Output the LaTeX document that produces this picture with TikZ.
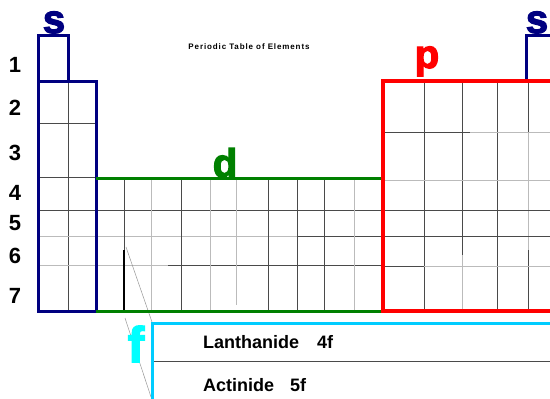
\documentclass[tikz,border=0pt]{standalone}
\usepackage{fontspec}
\setmainfont{Liberation Sans}
\newfontfamily\blockfont{Liberation Sans Bold}[FakeBold=3]
\usepackage{tikz}
\usetikzlibrary{positioning}
\definecolor{sblue}{HTML}{000080}
\definecolor{pred}{HTML}{FF0000}
\definecolor{dgreen}{HTML}{008000}
\definecolor{fcyan}{HTML}{00CCFF}
\definecolor{fletter}{HTML}{00FFFF}
\definecolor{gridgray}{HTML}{4A4A4A}
\definecolor{gridlight}{HTML}{BBBBBB}

\begin{document}
\begin{tikzpicture}[
    x=1pt, y=-1pt,
    grid/.style={gridgray, line width=0.8pt},
    faint/.style={gridlight, line width=0.8pt},
    leader/.style={gridlight!80!black, line width=0.5pt},
    blockletter/.style={font=\blockfont\fontsize{40}{40}\selectfont, anchor=base, inner sep=0pt},
    rowlabel/.style={font=\bfseries\fontsize{22}{22}\selectfont, anchor=base, inner sep=0pt},
    fname/.style={font=\bfseries\fontsize{18}{18}\selectfont, anchor=base west, inner sep=0pt}
  ]
    \useasboundingbox (0,0) rectangle (550,399);
    \clip (0,0) rectangle (550,399);

    % grid of the s and d blocks
    \draw[grid] (68,81) -- (68,311);
    \foreach \y in {123,177} \draw[grid] (38,\y) -- (96,\y);
    \draw[grid] (38,210) -- (382,210);
    \draw[faint] (38,236) -- (297,236);
    \draw[grid] (297,236) -- (382,236);
    \draw[faint] (38,265) -- (168,265);
    \draw[grid] (168,265) -- (382,265);
    \foreach \x in {124,181,268,297,324} \draw[grid] (\x,178) -- (\x,311);
    \foreach \x in {151,210,354} \draw[faint] (\x,178) -- (\x,311);
    \draw[faint] (236,178) -- (236,305);
    \draw[black, line width=1.6pt] (124,250) -- (124,311);

    % grid of the p block
    \foreach \x in {424,497} \draw[grid] (\x,81) -- (\x,311);
    \draw[grid] (462,81) -- (462,255);
    \draw[faint] (462,255) -- (462,311);
    \draw[grid] (528,81) -- (528,132);
    \draw[faint] (528,132) -- (528,250);
    \draw[grid] (528,250) -- (528,311);
    \draw[grid] (382,132) -- (470,132);
    \draw[faint] (470,132) -- (550,132);
    \draw[faint] (382,180) -- (550,180);
    \foreach \y in {210,236} \draw[grid] (382,\y) -- (550,\y);
    \draw[grid] (382,266) -- (424,266);
    \draw[faint] (424,266) -- (550,266);

    % leaders to the f block
    \draw[leader] (126,247) -- (152,322);
    \draw[leader] (125,318) -- (151,397);

    % block outlines
    \draw[sblue, line width=3pt] (38,35) -- (68,35) -- (68,81) -- (96,81) -- (96,311) -- (38,311) -- cycle;
    \draw[sblue, line width=3pt] (38,81) -- (68,81);
    \draw[sblue, line width=3pt] (526,81) -- (526,35) -- (560,35);
    \draw[dgreen, line width=3pt] (96,178) -- (382,178);
    \draw[dgreen, line width=3pt] (96,311) -- (382,311);
    \draw[pred, line width=4pt] (560,81) -- (383,81) -- (383,311) -- (560,311);
    \draw[grid] (152,361) -- (550,361);
    \draw[fcyan, line width=3pt] (560,323) -- (152,323) -- (152,410);

    % labels
    \node[font=\bfseries\fontsize{8}{8}\selectfont\addfontfeatures{LetterSpace=11}] (title) at (249,47) {Periodic Table of Elements};
    \node[blockletter, sblue] (sleft) at (54,33) {s};
    \node[blockletter, sblue] (sright) at (537,33) {s};
    \node[blockletter, pred] (pblock) at (427,68) {p};
    \node[blockletter, dgreen] (dblock) at (225,177) {d};
    \node[blockletter, fletter, font=\blockfont\fontsize{50}{50}\selectfont] (fblock) at (136,362) {f};
    \foreach \n/\y in {1/72,2/115,3/160,4/200,5/230,6/263,7/303}
      \node[rowlabel] (row\n) at (15,\y) {\n};
    \node[fname] (lanth) at (203,348) {Lanthanide\hspace{18pt}4f};
    \node[fname] (actin) at (203,391) {Actinide\hspace{16pt}5f};
\end{tikzpicture}
\end{document}
